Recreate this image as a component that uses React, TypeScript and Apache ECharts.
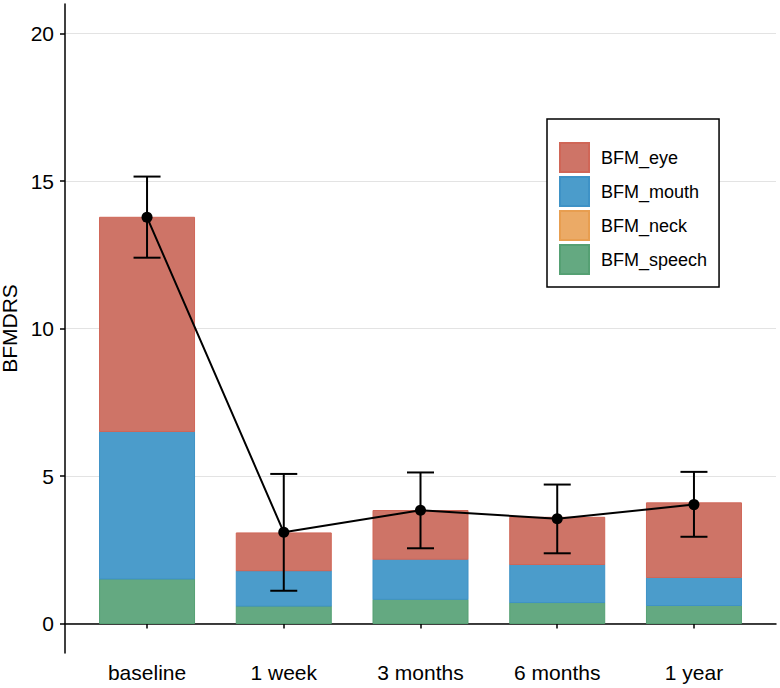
import React, { useEffect, useRef } from "react";
import * as echarts from "echarts";

const categories = ["baseline", "1 week", "3 months", "6 months", "1 year"];
const positions = [1, 2, 3, 4, 5];
const speech = [1.51, 0.59, 0.82, 0.71, 0.61];
const neck = [0, 0, 0, 0, 0];
const mouth = [5.0, 1.2, 1.36, 1.29, 0.95];
const eye = [7.26, 1.28, 1.65, 1.6, 2.53];
const meanTotal = [13.77, 3.09, 3.84, 3.55, 4.03];
const errLow = [12.4, 1.11, 2.55, 2.38, 2.94];
const errHigh = [15.15, 5.07, 5.12, 4.71, 5.14];
const yTicks = [0, 5, 10, 15, 20];

const FONT = "'Liberation Sans', Arial, Helvetica, sans-serif";

const colors = {
  eye: { fill: "#CE7467", border: "#D06657" },
  mouth: { fill: "#4B9CCB", border: "#3E92C6" },
  neck: { fill: "#EBAA66", border: "#E89E50" },
  speech: { fill: "#64A981", border: "#55A073" },
};

// stacking order bottom -> top
const stackOrder: { name: string; vals: number[]; c: { fill: string; border: string } }[] = [
  { name: "BFM_speech", vals: speech, c: colors.speech },
  { name: "BFM_neck", vals: neck, c: colors.neck },
  { name: "BFM_mouth", vals: mouth, c: colors.mouth },
  { name: "BFM_eye", vals: eye, c: colors.eye },
];

function buildStackSeries() {
  const base = positions.map(() => 0);
  return stackOrder.map((s) => {
    const data = positions.map((p, i) => {
      const lo = base[i];
      const hi = lo + s.vals[i];
      base[i] = hi;
      return [p, lo, hi];
    });
    return {
      name: s.name,
      type: "custom",
      z: 2,
      data,
      itemStyle: { color: s.c.fill, borderColor: s.c.border, borderWidth: 1 },
      renderItem: (params: any, api: any) => {
        const x = api.value(0);
        const lo = api.coord([x, api.value(1)]);
        const hi = api.coord([x, api.value(2)]);
        const w = 95;
        const h = lo[1] - hi[1];
        if (h <= 0) return null;
        return {
          type: "rect",
          shape: { x: lo[0] - w / 2, y: hi[1], width: w, height: h },
          style: { fill: s.c.fill, stroke: s.c.border, lineWidth: 1 },
        };
      },
    };
  });
}

export default function App() {
  const ref = useRef<HTMLDivElement>(null);
  useEffect(() => {
    if (!ref.current) return;
    const chart = echarts.init(ref.current, null, { renderer: "svg" });
    const option: any = {
      animation: false,
      backgroundColor: "#ffffff",
      textStyle: { fontFamily: FONT },
      grid: { left: 65, right: 4, top: 4, bottom: 35, containLabel: false, outerBoundsMode: "none" },
      legend: {
        data: ["BFM_eye", "BFM_mouth", "BFM_neck", "BFM_speech"],
        orient: "vertical",
        left: 547,
        top: 119,
        padding: [23, 12, 12, 12],
        itemWidth: 29,
        itemHeight: 29,
        itemGap: 3,
        icon: "rect",
        borderColor: "#000",
        borderWidth: 1.5,
        backgroundColor: "#fff",
        textStyle: { fontSize: 18, color: "#000", fontFamily: FONT, padding: [0, 0, 0, 7] },
      },
      xAxis: {
        type: "value",
        min: 0.4,
        max: 5.6,
        splitLine: { show: false },
        axisLine: { show: true, lineStyle: { color: "#000", width: 1.5 } },
        axisTick: { show: true, customValues: positions, length: 5, lineStyle: { color: "#000", width: 1.5 } },
        axisLabel: {
          customValues: positions,
          formatter: (v: number) => categories[Math.round(v) - 1] ?? "",
          fontSize: 21,
          color: "#000",
          margin: 9,
          fontFamily: FONT,
        },
      },
      yAxis: {
        type: "value",
        min: -1,
        max: 21,
        name: "BFMDRS",
        nameLocation: "middle",
        nameGap: 40,
        nameTextStyle: { fontSize: 21, color: "#000", fontFamily: FONT },
        axisLine: { show: true, lineStyle: { color: "#000", width: 1.5 } },
        axisTick: { show: true, customValues: yTicks, length: 5, lineStyle: { color: "#000", width: 1.5 } },
        axisLabel: {
          customValues: yTicks,
          fontSize: 21,
          color: "#000",
          margin: 11,
          fontFamily: FONT,
        },
        splitLine: { show: true, lineStyle: { color: "#E3E3E3", width: 1 } },
      },
      series: [
        ...buildStackSeries(),
        {
          name: "err",
          type: "custom",
          z: 5,
          data: positions.map((p, i) => [p, errLow[i], errHigh[i]]),
          renderItem: (params: any, api: any) => {
            const x = api.value(0);
            const lo = api.coord([x, api.value(1)]);
            const hi = api.coord([x, api.value(2)]);
            const hw = 13.5;
            const style = { stroke: "#000", lineWidth: 2 };
            return {
              type: "group",
              children: [
                { type: "line", shape: { x1: lo[0], y1: lo[1], x2: hi[0], y2: hi[1] }, style },
                { type: "line", shape: { x1: lo[0] - hw, y1: lo[1], x2: lo[0] + hw, y2: lo[1] }, style },
                { type: "line", shape: { x1: hi[0] - hw, y1: hi[1], x2: hi[0] + hw, y2: hi[1] }, style },
              ],
            };
          },
        },
        {
          name: "mean",
          type: "line",
          z: 6,
          data: positions.map((p, i) => [p, meanTotal[i]]),
          symbol: "circle",
          symbolSize: 11,
          itemStyle: { color: "#000" },
          lineStyle: { color: "#000", width: 2 },
        },
      ],
    };
    chart.setOption(option);
    return () => chart.dispose();
  }, []);
  return (
    <div
      ref={ref}
      style={{ position: "fixed", left: 0, top: 0, width: 780, height: 688, background: "#fff" }}
    />
  );
}
